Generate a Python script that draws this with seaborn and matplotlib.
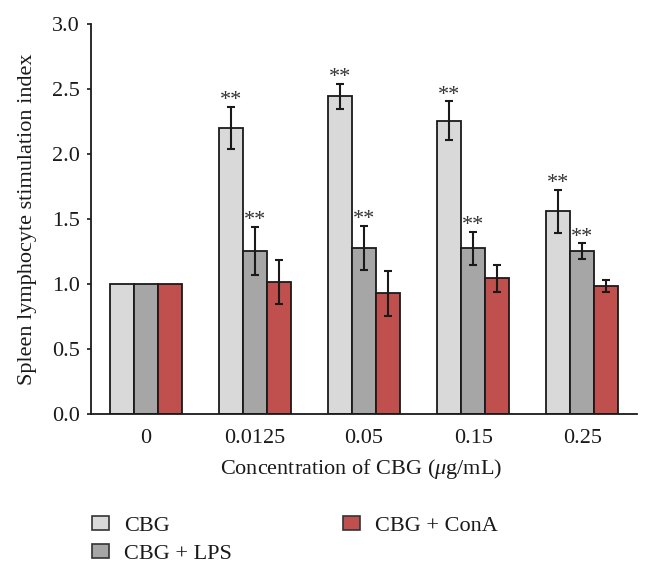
import numpy as np
import pandas as pd
import matplotlib
matplotlib.use("Agg")
import matplotlib.pyplot as plt
import seaborn as sns
from matplotlib.patches import Patch

concentrations = ["0", "0.0125", "0.05", "0.15", "0.25"]
series = ["CBG", "CBG + LPS", "CBG + ConA"]
cbg = [1.0, 2.20, 2.445, 2.255, 1.56]
cbg_lps = [1.0, 1.255, 1.277, 1.275, 1.254]
cbg_cona = [1.0, 1.018, 0.928, 1.044, 0.982]
err_cbg = [0.0, 0.165, 0.095, 0.15, 0.165]
err_lps = [0.0, 0.185, 0.17, 0.125, 0.06]
err_cona = [0.0, 0.17, 0.175, 0.105, 0.045]
stars_cbg = ["", "**", "**", "**", "**"]
stars_lps = ["", "**", "**", "**", "**"]
stars_cona = ["", "", "", "", ""]
colors = ["#d9d9d9", "#a6a6a6", "#c0504d"]

sns.set_style("white")
plt.rcParams["font.family"] = ["Liberation Serif", "DejaVu Serif"]
plt.rcParams["mathtext.fontset"] = "custom"
plt.rcParams["mathtext.it"] = "Liberation Serif:italic"
plt.rcParams["mathtext.rm"] = "Liberation Serif"
plt.rcParams["text.color"] = "#1a1a1a"
plt.rcParams["axes.labelcolor"] = "#1a1a1a"
plt.rcParams["xtick.color"] = "#1a1a1a"
plt.rcParams["ytick.color"] = "#1a1a1a"

FS = 16

df = pd.DataFrame({
    "conc": concentrations * 3,
    "series": [s for s in series for _ in concentrations],
    "value": cbg + cbg_lps + cbg_cona,
})
errs = [err_cbg, err_lps, err_cona]
stars = [stars_cbg, stars_lps, stars_cona]

fig = plt.figure(figsize=(6.52, 5.72), dpi=100)
ax = fig.add_axes([91 / 652, 1 - 414 / 572, 546 / 652, 390 / 572])
sns.barplot(data=df, x="conc", y="value", hue="series", order=concentrations,
            hue_order=series, palette=colors, width=0.66, errorbar=None,
            edgecolor="#1a1a1a", linewidth=1.3, saturation=1, ax=ax, legend=False)

bar_containers = list(ax.containers)
for ci, cont in enumerate(bar_containers):
    for j, bar in enumerate(cont.patches):
        xc = bar.get_x() + bar.get_width() / 2
        h = bar.get_height()
        e = errs[ci][j]
        if e > 0:
            ax.errorbar(xc, h, yerr=e, color="#1a1a1a", capsize=3.2, elinewidth=1.5,
                        capthick=1.5, fmt="none")
        if stars[ci][j]:
            ax.annotate(stars[ci][j], xy=(xc, h + e), xytext=(0, 1.2),
                        textcoords="offset points", ha="center", va="baseline",
                        fontsize=FS, color="#333333")

ax.set_ylim(0, 3.0)
ax.set_xlim(-0.5, 4.5)
ax.set_yticks(np.arange(0, 3.01, 0.5))
ax.set_yticklabels([f"{v:.1f}" for v in np.arange(0, 3.01, 0.5)])
ax.tick_params(axis="y", left=True, length=3, width=1.2, direction="out", labelsize=FS, pad=5)
ax.tick_params(axis="x", bottom=False, labelsize=FS, pad=7)
for s in ["top", "right"]:
    ax.spines[s].set_visible(False)
for s in ["left", "bottom"]:
    ax.spines[s].set_color("#1a1a1a")
    ax.spines[s].set_linewidth(1.3)
ax.set_ylabel("Spleen lymphocyte stimulation index", fontsize=FS)
ax.yaxis.set_label_coords((27.5 - 91) / 546, 0.5)
ax.yaxis.label.set_va("center")
ax.set_xlabel(r"Concentration of CBG ($\mu$g/mL)", fontsize=FS)
ax.xaxis.set_label_coords(0.495, -(469 - 414) / 390)
ax.xaxis.label.set_va("center")

handles = [Patch(facecolor=c, edgecolor="#333333", linewidth=1.2) for c in colors]
fig.legend(handles, series, ncol=2, loc="upper left", bbox_to_anchor=(92 / 652, 1 - 516 / 572),
           frameon=False, fontsize=FS, handlelength=0.78, handleheight=0.62,
           handletextpad=0.65, columnspacing=5.0, labelspacing=0.35,
           borderpad=0, borderaxespad=0)

fig.savefig("out.png", dpi=100)
